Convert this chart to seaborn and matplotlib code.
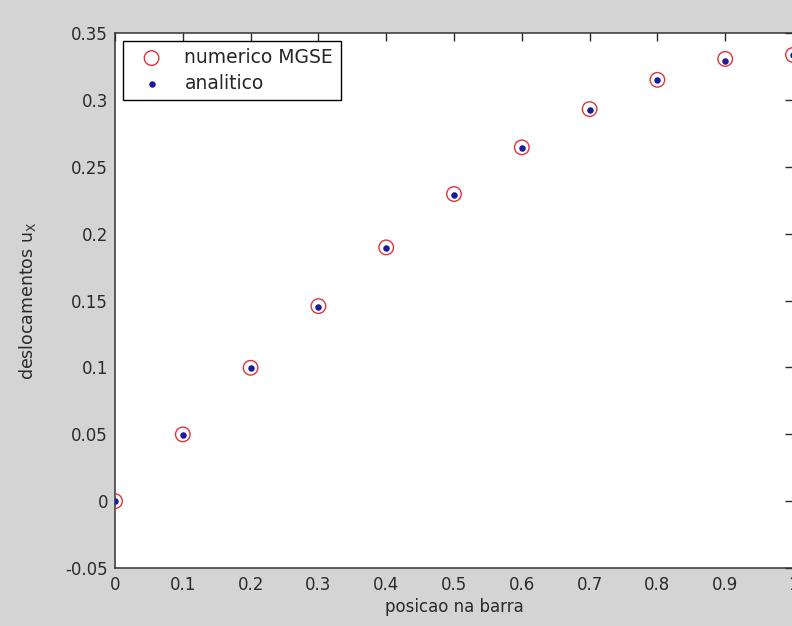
import numpy as np
import pandas as pd
import seaborn as sns
import matplotlib
matplotlib.use('Agg')
import matplotlib.pyplot as plt

# positions along the bar and displacements
posicao = [0.0, 0.1, 0.2, 0.3, 0.4, 0.5, 0.6, 0.7, 0.8, 0.9, 1.0]
numerico = [0.0, 0.0499, 0.0997, 0.1458, 0.1897, 0.2296, 0.2645, 0.2931, 0.3150, 0.3306, 0.3336]
analitico = [0.0, 0.0498, 0.0995, 0.1455, 0.1893, 0.2292, 0.2640, 0.2927, 0.3147, 0.3287, 0.3333]

xticks = [0, 0.1, 0.2, 0.3, 0.4, 0.5, 0.6, 0.7, 0.8, 0.9, 1]
yticks = [-0.05, 0, 0.05, 0.1, 0.15, 0.2, 0.25, 0.3, 0.35]
ytick_labels = ['-0.05', '0', '0.05', '0.1', '0.15', '0.2', '0.25', '0.3', '0.35']
xtick_labels = ['0', '0.1', '0.2', '0.3', '0.4', '0.5', '0.6', '0.7', '0.8', '0.9', '1']

df = pd.DataFrame({'x': posicao, 'num': numerico, 'ana': analitico})

sns.set_style('white')
plt.rcParams['font.family'] = ['DejaVu Sans']
plt.rcParams['mathtext.default'] = 'regular'

fig = plt.figure(figsize=(7.92, 6.26), dpi=100, facecolor='#d4d4d4')
ax = fig.add_axes([115/792, 58/626, 678/792, 535/626])
ax.set_facecolor('white')

sns.scatterplot(data=df, x='x', y='num', ax=ax, marker='o', s=110,
                facecolor='none', edgecolor='#e0343c', linewidth=1.0,
                label='numerico MGSE', zorder=3)
sns.scatterplot(data=df, x='x', y='ana', ax=ax, marker='o', s=22,
                color='#1c1c9a', edgecolor='#1c1c9a', linewidth=0,
                label='analitico', zorder=4)

ax.set_xlim(0, 1)
ax.set_ylim(-0.05, 0.35)
ax.set_xticks(xticks)
ax.set_xticklabels(xtick_labels)
ax.set_yticks(yticks)
ax.set_yticklabels(ytick_labels)
ax.tick_params(direction='in', length=6, width=1, colors='#2a2a2a',
               labelsize=12, top=True, right=True)
ax.tick_params(axis='x', pad=6)
ax.tick_params(axis='y', pad=5)
for sp in ax.spines.values():
    sp.set_visible(True)
    sp.set_color('#333333')
    sp.set_linewidth(1.1)

ax.set_xlabel('posicao na barra', fontsize=12, color='#2a2a2a', labelpad=3)
ax.set_ylabel('deslocamentos u$_X$', fontsize=12.5, color='#2a2a2a', labelpad=20)

leg = ax.legend(loc='upper left', fontsize=13.5, frameon=True, fancybox=False,
                borderaxespad=0.4, handletextpad=0.6, borderpad=0.4,
                labelspacing=0.35, handlelength=2.3)
leg.get_frame().set_edgecolor('black')
leg.get_frame().set_linewidth(1.0)
leg.get_frame().set_alpha(1)

fig.savefig('out.png', dpi=100, facecolor=fig.get_facecolor())
